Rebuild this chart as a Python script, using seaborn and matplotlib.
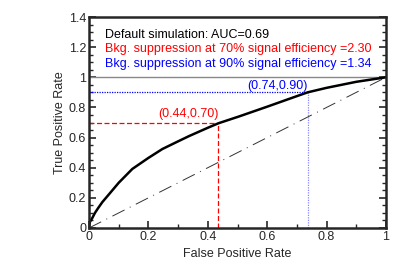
import matplotlib
matplotlib.use('Agg')
import matplotlib.pyplot as plt
import numpy as np
import pandas as pd
import seaborn as sns
from matplotlib.ticker import MultipleLocator, FuncFormatter

# ROC curve
fpr = [0.0, 0.003, 0.011, 0.02, 0.03, 0.045, 0.07, 0.1, 0.146, 0.2, 0.247,
       0.3, 0.337, 0.4, 0.436, 0.505, 0.6, 0.7, 0.736, 0.8, 0.9, 1.0]
tpr = [0.0, 0.04, 0.066, 0.1, 0.13, 0.172, 0.23, 0.3, 0.392, 0.465, 0.524,
       0.575, 0.61, 0.665, 0.695, 0.74, 0.805, 0.875, 0.9, 0.93, 0.97, 1.0]
diag = [0.0, 1.0]
pt70 = (0.436, 0.70)
pt90 = (0.736, 0.90)
legend_lines = ['Default simulation: AUC=0.69',
                'Bkg. suppression at 70% signal efficiency =2.30',
                'Bkg. suppression at 90% signal efficiency =1.34']
legend_colors = ['black', 'red', 'blue']

sns.set_style('ticks')
plt.rcParams['font.family'] = ['Liberation Sans', 'DejaVu Sans']

fig = plt.figure(figsize=(4.07, 2.76), dpi=100)
ax = fig.add_axes([89 / 407, 1 - 228 / 276, 297 / 407, 211 / 276])

df = pd.DataFrame({'fpr': fpr, 'tpr': tpr})
ax.plot([0, 1], [1, 1], color='#888888', lw=1)
ax.plot(diag, diag, color='#333333', lw=0.7, linestyle=(0, (14, 6, 1, 6)))
ax.plot([0, pt70[0]], [pt70[1], pt70[1]], color='red', lw=0.9, linestyle=(0, (4, 2)))
ax.plot([pt70[0], pt70[0]], [0, pt70[1]], color='red', lw=0.9, linestyle=(0, (4, 2)))
ax.plot([0, pt90[0]], [pt90[1], pt90[1]], color='blue', lw=0.9, linestyle=(0, (1, 1)))
ax.plot([pt90[0], pt90[0]], [0, pt90[1]], color='#8888ff', lw=0.9, linestyle=(0, (1, 1)))
sns.lineplot(data=df, x='fpr', y='tpr', color='black', lw=1.8, ax=ax, sort=False)

ax.text(pt70[0], pt70[1] + 0.015, '(%.2f,%.2f)' % pt70, color='red', fontsize=9,
        ha='right', va='bottom')
ax.text(pt90[0], pt90[1] + 0.005, '(%.2f,%.2f)' % pt90, color='blue', fontsize=9,
        ha='right', va='bottom')

for i, (s, c) in enumerate(zip(legend_lines, legend_colors)):
    ax.text(0.053, 0.915 - i * 0.068, s, color=c, fontsize=9, transform=ax.transAxes,
            ha='left', va='center')

ax.set_xlim(0, 1)
ax.set_ylim(0, 1.4)
ax.xaxis.set_major_locator(MultipleLocator(0.2))
ax.xaxis.set_minor_locator(MultipleLocator(0.1))
ax.yaxis.set_major_locator(MultipleLocator(0.2))
ax.yaxis.set_minor_locator(MultipleLocator(0.05))
fmt = FuncFormatter(lambda v, p: ('%g' % round(v, 2)))
ax.xaxis.set_major_formatter(fmt)
ax.yaxis.set_major_formatter(fmt)
ax.tick_params(which='both', direction='in', right=True, top=False, labelsize=9, pad=2)
ax.tick_params(which='major', length=5, width=1.2)
ax.tick_params(which='minor', length=3, width=1)
for sp in ax.spines.values():
    sp.set_linewidth(1.8)
    sp.set_visible(True)
ax.set_xlabel('False Positive Rate', fontsize=9, labelpad=4)
ax.set_ylabel('True Positive Rate', fontsize=9, labelpad=2)

fig.savefig('out.png', dpi=100)
